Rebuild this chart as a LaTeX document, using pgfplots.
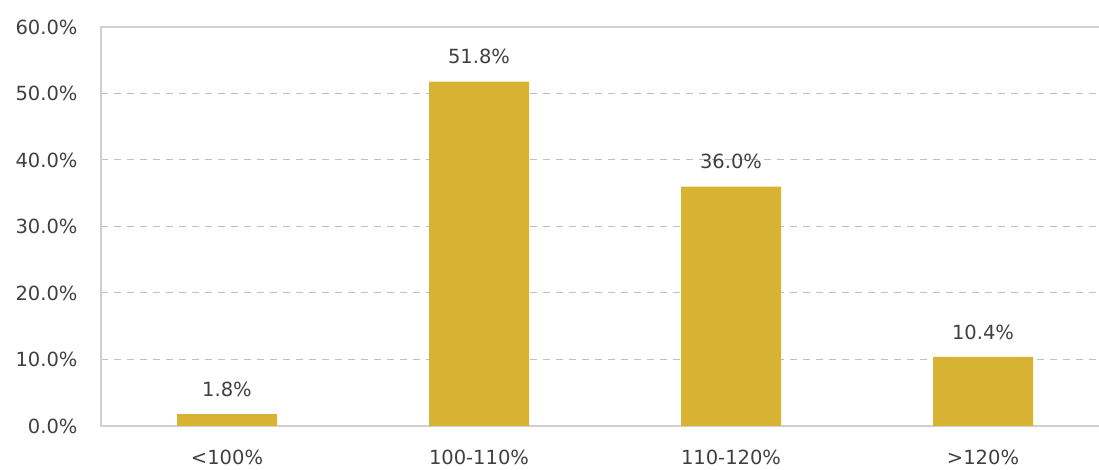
\documentclass[border=0pt]{standalone}
\usepackage{pgfplots}
\pgfplotsset{compat=1.18}
\usepackage{fontspec}
\setmainfont{DejaVu Sans}
\definecolor{bargold}{HTML}{D8B232}
\definecolor{txt}{HTML}{404040}
\definecolor{gridc}{HTML}{BFBFBF}
\definecolor{axc}{HTML}{D0D0D0}
\begin{document}
\begin{tikzpicture}[x=1pt,y=1pt]
\begin{axis}[
  at={(101pt,44pt)}, anchor=south west,
  scale only axis,
  width=1013pt, height=399pt,
  xmin=-0.5, xmax=3.52,
  ymin=0, ymax=60,
  ytick={0,10,20,30,40,50,60},
  yticklabel={\pgfmathprintnumber[fixed,fixed zerofill,precision=1]{\tick}\%},
  /pgf/number format/assume math mode=true,
  xtick=data,
  xticklabels={<100\%,100-110\%,110-120\%,>120\%},
  tick style={draw=none},
  ymajorgrids,
  grid style={gridc, dash pattern=on 7pt off 6pt, line width=1pt},
  axis line style={axc, line width=1.2pt},
  ticklabel style={font=\fontsize{19.5}{22}\selectfont, text=txt},
  yticklabel style={xshift=-20pt},
  xticklabel style={yshift=-16pt},
  ybar, bar width=100pt,
  nodes near coords={\pgfmathprintnumber[fixed,fixed zerofill,precision=1]{\pgfplotspointmeta}\%},
  nodes near coords style={font=\fontsize{19.5}{22}\selectfont, text=txt, anchor=south, yshift=14pt, /pgf/number format/assume math mode=true},
]
\addplot[fill=bargold, draw=none] coordinates {(0,1.8) (1,51.8) (2,36.0) (3,10.4)};
\end{axis}
\pgfresetboundingbox
\useasboundingbox (0,0) rectangle (1099pt,470pt);
\end{tikzpicture}
\end{document}
